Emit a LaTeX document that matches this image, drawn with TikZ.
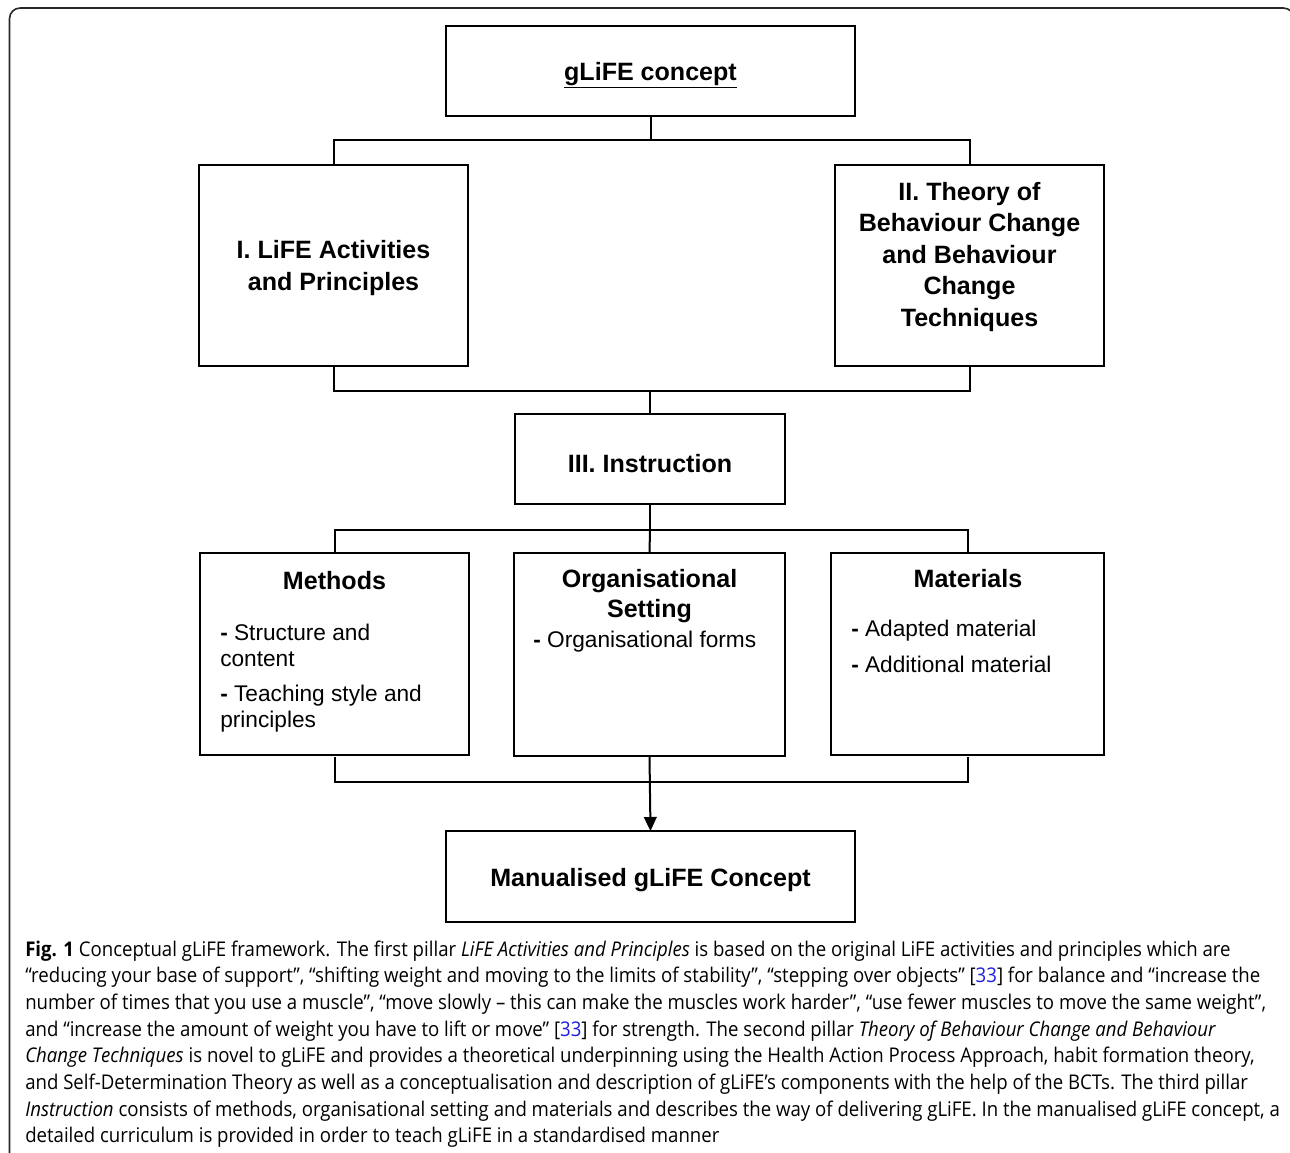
\documentclass[tikz,border=0pt]{standalone}
\usepackage{fontspec}
\setmainfont{Liberation Sans}
\newfontfamily\capfont[FakeStretch=0.918]{Open Sans}
\usetikzlibrary{arrows.meta}
\definecolor{refblue}{RGB}{30,30,225}
\definecolor{framegray}{RGB}{40,40,40}
\newcommand{\headfont}{\fontsize{18.8}{23.6}\selectfont\bfseries}
\newcommand{\itemfont}{\fontsize{17}{20}\selectfont}
\newcommand{\dashitem}{{\bfseries -}\ }
\begin{document}
\begin{tikzpicture}[x=0.75pt,y=-0.75pt,
  box/.style={draw=black,line width=1.5pt,inner sep=0pt,outer sep=0pt},
  conn/.style={draw=black,line width=1.5pt},
  arrowconn/.style={conn,-{Triangle[length=10.5pt,width=9.5pt]}},
  head/.style={inner sep=0pt,anchor=base,font=\headfont},
  item/.style={inner sep=0pt,anchor=base west,font=\itemfont},
  captext/.style={inner sep=0pt,anchor=base west,font=\capfont\fontsize{15.2}{18}\selectfont}]
\useasboundingbox (0,0) rectangle (1290,1153);

% outer frame, partly running off the page
\begin{scope}
  \clip (0,0) rectangle (1290,1153);
  \draw[framegray,line width=1.2pt,rounded corners=8pt] (9.5,8) rectangle (1294,1175);
\end{scope}

% boxes
\node[box,minimum width=306.75pt,minimum height=67.5pt] (top) at (650.5,71) {};
\node[box,minimum width=201.75pt,minimum height=150.75pt] (pI) at (333.5,265.5) {};
\node[box,minimum width=201.75pt,minimum height=150.75pt] (pII) at (969.5,265.5) {};
\node[box,minimum width=202.5pt,minimum height=67.5pt] (instr) at (650,459) {};
\node[box,minimum width=201.75pt,minimum height=151.5pt] (meth) at (334.5,654) {};
\node[box,minimum width=203.25pt,minimum height=152.25pt] (org) at (649.5,654.5) {};
\node[box,minimum width=204.75pt,minimum height=151.5pt] (mat) at (967.5,654) {};
\node[box,minimum width=306.75pt,minimum height=68.25pt] (manual) at (650.5,876.5) {};

% box texts
\node[head] (ttop) at (650.5,80) {\underline{gLiFE concept}};
\node[head] (tI1) at (333.5,258) {I. LiFE Activities};
\node[head] (tI2) at (333.5,290) {and Principles};
\node[head] (tII1) at (969.5,200) {II. Theory of};
\node[head] (tII2) at (969.5,231.5) {Behaviour Change};
\node[head] (tII3) at (969.5,263) {and Behaviour};
\node[head] (tII4) at (969.5,294.5) {Change};
\node[head] (tII5) at (969.5,326) {Techniques};
\node[head] (tinstr) at (650,472) {III. Instruction};
\node[head] (tmeth) at (334.5,589) {Methods};
\node[item] (m1) at (220,640) {\dashitem Structure and};
\node[item] (m2) at (220,666) {content};
\node[item] (m3) at (220,701) {\dashitem Teaching style and};
\node[item] (m4) at (220,727) {principles};
\node[head] (torg1) at (649.5,587) {Organisational};
\node[head] (torg2) at (649.5,617.5) {Setting};
\node[item] (o1) at (533,647) {\dashitem Organisational forms};
\node[head] (tmat) at (968,587) {Materials};
\node[item] (a1) at (851,636) {\dashitem Adapted material};
\node[item] (a2) at (851,672) {\dashitem Additional material};
\node[head] (tmanual) at (650.5,886) {Manualised gLiFE Concept};

% connectors
\coordinate (b1) at (650.5,140);
\coordinate (b2) at (650,391);
\coordinate (b3) at (650,530);
\coordinate (b4) at (649.5,782);
\draw[conn] (top.south) -- (b1);
\draw[conn] (pI.north) |- (b1) -| (pII.north);
\draw[conn] (pI.south) |- (b2) -| (pII.south);
\draw[conn] (b2) -- (instr.north);
\draw[conn] (instr.south) -- (b3);
\draw[conn] (meth.north) |- (b3) -| (mat.north);
\draw[conn] (b3) -- (org.north);
\draw[conn] ([yshift=-1.5pt]meth.south) |- (b4) -| ([yshift=-1.5pt]mat.south);
\draw[arrowconn] (org.south) -- (manual.north);

% caption
\node[captext] (cap1) at (25,956) {\textbf{Fig. 1} Conceptual gLiFE framework. The first pillar \textit{LiFE Activities and Principles} is based on the original LiFE activities and principles which are};
\node[captext] (cap2) at (25,982.7) {“reducing your base of support”, “shifting weight and moving to the limits of stability”, “stepping over objects” [\textcolor{refblue}{33}] for balance and “increase the};
\node[captext] (cap3) at (25,1009.3) {number of times that you use a muscle”, “move slowly – this can make the muscles work harder”, “use fewer muscles to move the same weight”,};
\node[captext] (cap4) at (25,1036) {and “increase the amount of weight you have to lift or move” [\textcolor{refblue}{33}] for strength. The second pillar \textit{Theory of Behaviour Change and Behaviour}};
\node[captext] (cap5) at (25,1062.6) {\textit{Change Techniques} is novel to gLiFE and provides a theoretical underpinning using the Health Action Process Approach, habit formation theory,};
\node[captext] (cap6) at (25,1089.3) {and Self-Determination Theory as well as a conceptualisation and description of gLiFE’s components with the help of the BCTs. The third pillar};
\node[captext] (cap7) at (25,1116) {\textit{Instruction} consists of methods, organisational setting and materials and describes the way of delivering gLiFE. In the manualised gLiFE concept, a};
\node[captext] (cap8) at (25,1142.6) {detailed curriculum is provided in order to teach gLiFE in a standardised manner};
\end{tikzpicture}
\end{document}
